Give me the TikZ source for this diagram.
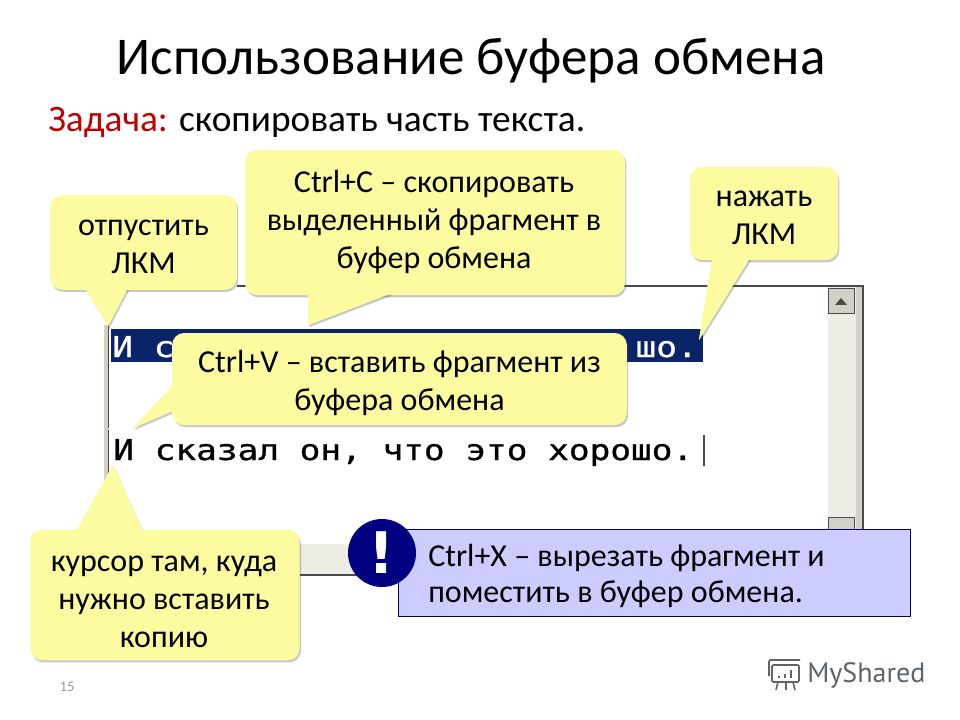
\documentclass[tikz,border=0pt]{standalone}
\usepackage{fontspec}
\setmainfont{Carlito}
\newfontfamily\screenfont[FakeBold=0.8]{DejaVu Sans Mono}
\newfontfamily\markfont{DejaVu Sans}
\newfontfamily\logofont{PT Sans}
\usetikzlibrary{shadows}
\definecolor{calloutfill}{HTML}{FDFB9F}
\definecolor{notefill}{HTML}{CCCCFF}
\definecolor{noteborder}{HTML}{000066}
\definecolor{markfill}{HTML}{000080}
\definecolor{selectfill}{HTML}{0A246A}
\definecolor{taskred}{HTML}{C00000}
\definecolor{darkline}{HTML}{4A4A4A}
\definecolor{softgray}{HTML}{D4D0C8}
\definecolor{trackfill}{HTML}{EDEDE6}
\definecolor{logogray}{HTML}{5F6468}
\tikzset{
  softshadow/.style={drop shadow={shadow xshift=1pt, shadow yshift=-1.6pt, opacity=0.3, fill=black!70}},
  callout/.style={
    rectangle,
    rounded corners=9pt,
    fill=calloutfill,
    inner sep=0pt,
    softshadow
  },
  callouttext/.style={align=center, inner sep=0pt, font=\fontsize{24}{28.5}\selectfont},
  tailbase/.style={fill=calloutfill, softshadow},
  tailtop/.style={fill=calloutfill},
  note/.style={
    rectangle,
    draw=noteborder,
    fill=notefill,
    line width=0.8pt,
    inner sep=0pt
  },
  notetext/.style={align=left, anchor=west, inner sep=0pt, font=\fontsize{24}{27.5}\selectfont},
  screentext/.style={font=\screenfont\fontsize{21.5}{24}\selectfont, inner sep=0pt, xscale=1.2, anchor=base west},
  scrollbtn/.style={rectangle, draw=darkline, line width=0.5pt, fill=softgray, inner sep=0pt}
}
\def\tailpoints{85/288/128/288/tiprelease, 308/293/392/293/tipcopy, 712/258/750/258/tippress, 175/383/175/410/tippaste, 76/532/143/532/tipcursor}
\begin{document}
\begin{tikzpicture}[x=0.75pt, y=-0.75pt]
\useasboundingbox (0,0) rectangle (960,720);
\fill[white] (0,0) rectangle (960,720);

% Headings.
\node[font=\fontsize{39.8}{44}\selectfont] (title) at (471,61) {Использование буфера обмена};
\node[font=\fontsize{28}{32}\selectfont, anchor=base west, inner sep=0pt] (task) at (48,132) {\textcolor{taskred}{Задача:} скопировать часть текста.};

% Window frame.
\fill[softgray] (856,286) rectangle (863,577);
\fill[trackfill] (828,286) rectangle (856,530);
\fill[trackfill] (300,544) rectangle (400,575);
\draw[darkline, line width=1.4pt] (237,286) -- (863,286) -- (863,530);
\draw[darkline, line width=1.4pt] (300,575) -- (400,575);
\fill[softgray] (104,325) rectangle (109,510);
\draw[darkline, line width=1.2pt] (108.5,325) -- (108.5,428);
\draw[darkline, line width=1.2pt] (108.5,430) -- (108.5,478);
\node[scrollbtn, minimum width=19.5pt, minimum height=18.5pt] (btnup) at (841,301) {};
\fill[darkline] (835,305) -- (841,298) -- (847,305) -- cycle;
\node[scrollbtn, anchor=north, minimum width=19.5pt, minimum height=18.5pt] (btndown) at (841,517) {};

% Selected line and pasted line.
\node[rectangle, fill=selectfill, anchor=north west, inner sep=0pt, minimum width=444pt, minimum height=24.75pt] (selected) at (111,329) {};
\node[screentext, text=white] (selectedleft) at (112,357) {И с};
\node[screentext, text=white, anchor=base east] (selectedright) at (698,357) {шо.};
\node[screentext] (pasted) at (113,460) {И сказал он, что это хорошо.};
\draw[darkline, line width=0.9pt] (704,435) -- (704,466);

% Tips of the callouts.
\coordinate (tiprelease) at (108,326);
\coordinate (tipcopy) at (308,325);
\coordinate (tippress) at (699,340);
\coordinate (tippaste) at (133,428);
\coordinate (tipcursor) at (113,465);

% Callout tails under the bodies.
\foreach \ax/\ay/\bx/\by/\tip in \tailpoints {
  \fill[tailbase] (\ax,\ay) -- (\tip) -- (\bx,\by) -- cycle;
}

% Callout bodies.
\node[callout, minimum width=140pt, minimum height=71pt] (release) at (143.5,242.5) {};
\node[callout, minimum width=285pt, minimum height=109pt] (copy) at (435,222.5) {};
\node[callout, minimum width=111pt, minimum height=70pt] (press) at (764,213.5) {};
\node[callout, minimum width=341pt, minimum height=69pt] (paste) at (399.5,379) {};
\node[callout, minimum width=202pt, minimum height=98pt] (cursor) at (165,595) {};

% Tails again, over the shadows of the bodies.
\foreach \ax/\ay/\bx/\by/\tip in \tailpoints {
  \fill[tailtop] (\ax,\ay) -- (\tip) -- (\bx,\by) -- cycle;
}

% Callout texts.
\node[callouttext] (releasetext) at (143.5,246.5) {отпустить\\ЛКМ};
\node[callouttext] (copytext) at (434,222.5) {Ctrl+C – скопировать\\выделенный фрагмент в\\буфер обмена};
\node[callouttext] (presstext) at (764,217.5) {нажать\\ЛКМ};
\node[callouttext] (pastetext) at (399.5,383) {Ctrl+V – вставить фрагмент из\\буфера обмена};
\node[callouttext] (cursortext) at (164,602) {курсор там, куда\\нужно вставить\\копию};

% Note.
\node[note, minimum width=384pt, minimum height=65.5pt, anchor=west] (notebox) at (398,573) {};
\node[notetext] (notelines) at (428,576) {Ctrl+X – вырезать фрагмент и\\поместить в буфер обмена.};
\node[circle, fill=markfill, minimum size=51pt, inner sep=0pt, text=white, font=\markfont\bfseries\fontsize{43}{43}\selectfont] (mark) at (382,553) {!};

% Page number and logo.
\node[font=\fontsize{11}{12}\selectfont, text=black!40] (pageno) at (67,687) {15};
\node[font=\logofont\fontsize{21}{24}\selectfont, text=logogray, anchor=west, inner sep=0pt] (logo) at (807,675) {MyShared};
\draw[logogray, line width=1.2pt, rounded corners=1pt] (772,665) rectangle (799,682);
\draw[logogray, line width=1.2pt, rounded corners=1pt] (769,676) -- (769,660) -- (800,660);
\draw[logogray, line width=1.2pt] (778,682) -- (776,690) (786,682) -- (786,690) (793,682) -- (795,690);
\draw[logogray, line width=1.6pt] (779,678) -- (779,676) (785,678) -- (785,674) (791,678) -- (791,670);

\end{tikzpicture}
\end{document}
